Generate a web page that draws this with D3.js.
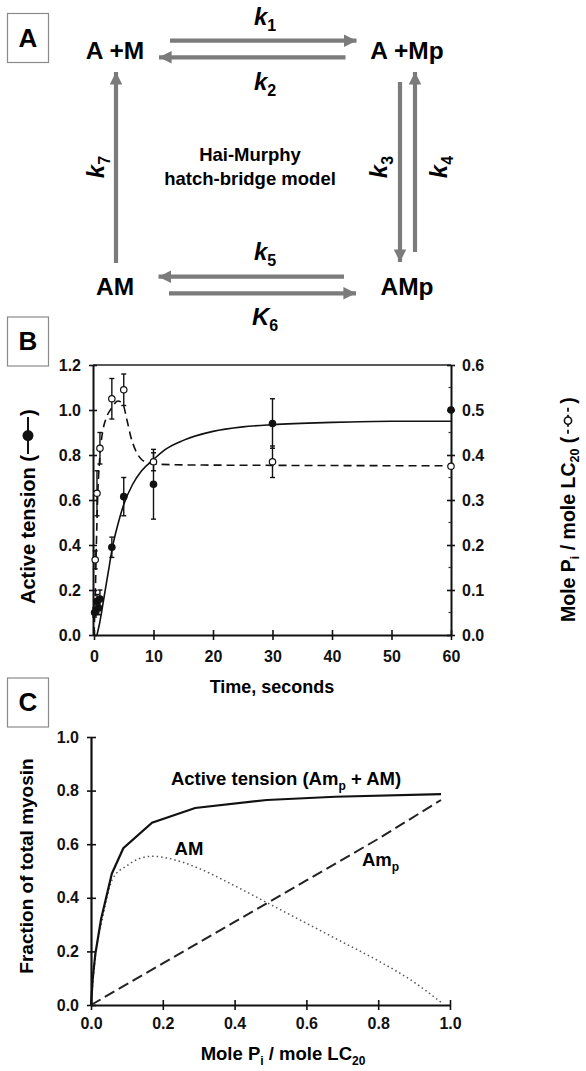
<!DOCTYPE html>
<html><head><meta charset="utf-8">
<script src="https://cdn.jsdelivr.net/npm/d3@7"></script>
<style>body{margin:0;background:#fff}svg{display:block;font-family:"Liberation Sans",Arial,sans-serif;font-weight:bold}</style>
</head><body>
<svg id="c" width="586" height="1071"></svg>
<script>
// ---------- Panel A (scheme) ----------
const states = ["A +M", "A +Mp", "AM", "AMp"];
const rateLabels = [["k","1"],["k","2"],["k","3"],["k","4"],["k","5"],["K","6"],["k","7"]];
const modelTitle = ["Hai-Murphy", "hatch-bridge model"];

// ---------- Panel B data ----------
const bTimeTicks = [0, 10, 20, 30, 40, 50, 60];
const bLeftTicks = [0, 0.2, 0.4, 0.6, 0.8, 1.0, 1.2];
const bRightTicks = [0, 0.1, 0.2, 0.3, 0.4, 0.5, 0.6];
// measured active tension (filled circles)
const tensionT   = [0.1, 0.5, 0.8, 1.0, 3, 5, 10, 30, 60];
const tensionV   = [0.10, 0.15, 0.12, 0.16, 0.39, 0.615, 0.67, 0.94, 1.00];
const tensionErr = [0.02, 0.03, 0.03, 0.04, 0.045, 0.085, 0.155, 0.11, 0];
// measured mole Pi / mole LC20 (open circles, right axis)
const piT   = [0.2, 0.5, 1, 3, 5, 10, 30, 60];
const piV   = [0.167, 0.315, 0.415, 0.525, 0.545, 0.385, 0.385, 0.375];
const piErr = [0.02, 0.05, 0.035, 0.045, 0.035, 0.02, 0.035, 0];
// model curves
const tensionCurveT = [0.5, 1.0, 1.7, 2.4, 3.1, 4, 5, 6.5, 8, 10, 12, 15, 20, 25, 30, 40, 50, 60];
const tensionCurveV = [0, 0.06, 0.17, 0.28, 0.39, 0.49, 0.58, 0.67, 0.73, 0.78, 0.825, 0.865, 0.905, 0.925, 0.935, 0.945, 0.95, 0.95];
const piCurveT = [0, 0.2, 0.4, 0.6, 1.0, 1.5, 2, 3, 4, 4.8, 5.5, 6.2, 7, 8, 9, 10, 15, 30, 60];
const piCurveV = [0, 0.08, 0.2, 0.3, 0.4, 0.455, 0.48, 0.505, 0.52, 0.515, 0.48, 0.44, 0.41, 0.39, 0.383, 0.38, 0.378, 0.377, 0.376];

// ---------- Panel C data ----------
const cTicks = [0, 0.2, 0.4, 0.6, 0.8, 1.0];
const totalX = [0, 0.005, 0.012, 0.028, 0.058, 0.09, 0.17, 0.29, 0.49, 0.68, 0.975];
const totalY = [0, 0.1, 0.19, 0.32, 0.49, 0.585, 0.68, 0.735, 0.765, 0.777, 0.787];
const amX = [0, 0.012, 0.03, 0.06, 0.1, 0.17, 0.25, 0.3, 0.4, 0.5, 0.6, 0.7, 0.8, 0.9, 0.975];
const amY = [0, 0.18, 0.31, 0.47, 0.52, 0.555, 0.535, 0.51, 0.445, 0.375, 0.305, 0.235, 0.165, 0.085, 0.01];
const ampX = [0, 0.2, 0.4, 0.6, 0.8, 0.975];
const ampY = [0, 0.155, 0.31, 0.465, 0.62, 0.765];

const svg = d3.select("#c");
const gray = "#7b7b7b";

// panel letter boxes
function letterBox(letter, x, y) {
  svg.append("rect").attr("x", x).attr("y", y).attr("width", 41).attr("height", 49)
    .attr("fill", "#fff").attr("stroke", "#8a8a8a").attr("stroke-width", 1.2);
  svg.append("text").attr("x", x + 20.5).attr("y", y + 33).attr("text-anchor", "middle")
    .attr("font-size", 26).text(letter);
}
letterBox("A", 7.5, 13.5);
letterBox("B", 7.5, 317);
letterBox("C", 7.5, 678);

// ---------- Panel A ----------
const statePos = [[115, 59], [407, 59], [115, 295], [407, 295]];
states.forEach((s, i) => {
  svg.append("text").attr("x", statePos[i][0]).attr("y", statePos[i][1])
    .attr("text-anchor", "middle").attr("font-size", 24.5).text(s);
});
const defs = svg.append("defs");
defs.append("marker").attr("id", "ah").attr("viewBox", "0 0 10 10").attr("refX", 10).attr("refY", 5)
  .attr("markerWidth", 3).attr("markerHeight", 3).attr("markerUnits", "strokeWidth").attr("orient", "auto")
  .append("path").attr("d", "M0,0 L10,5 L0,10 Z").attr("fill", gray);
const arrows = [
  [170, 40.7, 356.5, 40.7], [345.5, 57.3, 159, 57.3],
  [116, 263, 116, 72], [400, 82, 400, 262], [415, 252, 415, 72],
  [344, 276.7, 158.5, 276.7], [169, 293.3, 356, 293.3]
];
arrows.forEach(a => {
  svg.append("line").attr("x1", a[0]).attr("y1", a[1]).attr("x2", a[2]).attr("y2", a[3])
    .attr("stroke", gray).attr("stroke-width", 4.2).attr("marker-end", "url(#ah)");
});
function kLabel(lbl, x, y, rot) {
  const t = svg.append("text").attr("font-size", 24).attr("text-anchor", "middle")
    .attr("transform", `translate(${x},${y}) rotate(${rot})`);
  t.append("tspan").attr("font-style", "italic").text(lbl[0]);
  t.append("tspan").attr("font-size", 16).attr("dy", 6).text(lbl[1]);
}
kLabel(rateLabels[0], 265, 25, 0);
kLabel(rateLabels[1], 265, 90, 0);
kLabel(rateLabels[2], 387, 167, -90);
kLabel(rateLabels[3], 447, 167, -90);
kLabel(rateLabels[4], 265, 260, 0);
kLabel(rateLabels[5], 265, 325, 0);
kLabel(rateLabels[6], 104, 167, -90);
svg.append("text").attr("x", 250).attr("y", 161).attr("text-anchor", "middle").attr("font-size", 18.5).text(modelTitle[0]);
svg.append("text").attr("x", 250).attr("y", 185).attr("text-anchor", "middle").attr("font-size", 18.5).text(modelTitle[1]);

// ---------- Panel B ----------
const xB = d3.scaleLinear().domain([0, 60]).range([94, 451]);
const yBL = d3.scaleLinear().domain([0, 1.2]).range([635, 365]);
const yBR = d3.scaleLinear().domain([0, 0.6]).range([635, 365]);
const gB = svg.append("g");
// frame top line
gB.append("line").attr("x1", 93).attr("x2", 451).attr("y1", yBL(1.2)).attr("y2", yBL(1.2))
  .attr("stroke", "#222").attr("stroke-width", 1.6);
function styleAxis(g, sw) {
  g.selectAll(".domain").attr("stroke", "#111").attr("stroke-width", sw);
  g.selectAll(".tick line").attr("stroke", "#111").attr("stroke-width", 1.6);
  g.selectAll(".tick text").attr("font-size", 16).attr("font-family", "Liberation Sans, Arial, sans-serif").attr("font-weight", "bold").attr("fill", "#111");
}
const axBx = gB.append("g").attr("transform", "translate(0,635)")
  .call(d3.axisBottom(xB).tickValues(bTimeTicks).tickSizeInner(5).tickSizeOuter(0).tickPadding(11).tickFormat(d3.format("d")));
axBx.selectAll(".tick line").attr("y1", -5);
styleAxis(axBx, 2);
const axBl = gB.append("g").attr("transform", "translate(93,0)")
  .call(d3.axisLeft(yBL).tickValues(bLeftTicks).tickSizeInner(4).tickSizeOuter(0).tickPadding(8).tickFormat(d3.format(".1f")));
axBl.selectAll(".tick line").attr("x1", 4);
styleAxis(axBl, 2);
const axBr = gB.append("g").attr("transform", "translate(451,0)")
  .call(d3.axisRight(yBR).tickValues(bRightTicks).tickSizeInner(4).tickSizeOuter(0).tickPadding(7).tickFormat(d3.format(".1f")));
axBr.selectAll(".tick line").attr("x1", -4);
styleAxis(axBr, 2);
// minor ticks on right axis
gB.selectAll(".minr").data(d3.range(0.05, 0.6, 0.1)).enter().append("line")
  .attr("x1", 448.5).attr("x2", 451).attr("y1", d => yBR(d)).attr("y2", d => yBR(d))
  .attr("stroke", "#333").attr("stroke-width", 1.2);

// model curves
const lineTension = d3.line().x(d => xB(d[0])).y(d => yBL(d[1])).curve(d3.curveMonotoneX);
gB.append("path").datum(tensionCurveT.map((t, i) => [t, tensionCurveV[i]]))
  .attr("d", lineTension).attr("fill", "none").attr("stroke", "#111").attr("stroke-width", 1.6);
const linePi = d3.line().x(d => xB(d[0])).y(d => yBR(d[1])).curve(d3.curveMonotoneX);
gB.append("path").datum(piCurveT.map((t, i) => [t, piCurveV[i]]))
  .attr("d", linePi).attr("fill", "none").attr("stroke", "#111").attr("stroke-width", 1.6)
  .attr("stroke-dasharray", "8,5");

// error bars
function errBars(T, V, E, y) {
  T.forEach((t, i) => {
    if (E[i] <= 0) return;
    const x = xB(t);
    gB.append("line").attr("x1", x).attr("x2", x).attr("y1", y(V[i] - E[i])).attr("y2", y(V[i] + E[i]))
      .attr("stroke", "#111").attr("stroke-width", 1.4);
    [V[i] - E[i], V[i] + E[i]].forEach(v => gB.append("line").attr("x1", x - 2.5).attr("x2", x + 2.5)
      .attr("y1", y(v)).attr("y2", y(v)).attr("stroke", "#111").attr("stroke-width", 1.4));
  });
}
errBars(tensionT, tensionV, tensionErr, yBL);
errBars(piT, piV, piErr, yBR);
gB.selectAll(".tp").data(tensionT).enter().append("circle")
  .attr("cx", d => xB(d)).attr("cy", (d, i) => yBL(tensionV[i])).attr("r", 3.8).attr("fill", "#111");
gB.selectAll(".pp").data(piT).enter().append("circle")
  .attr("cx", d => xB(d)).attr("cy", (d, i) => yBR(piV[i])).attr("r", 3.2)
  .attr("fill", "#fff").attr("stroke", "#111").attr("stroke-width", 1.2);

svg.append("text").attr("x", 272).attr("y", 693).attr("text-anchor", "middle").attr("font-size", 18).text("Time, seconds");

// left title with symbol
const lt = svg.append("g").attr("transform", "translate(35,604) rotate(-90)");
const lt1 = lt.append("text").attr("x", 0).attr("y", 0).attr("font-size", 20).text("Active tension (");
const w1 = lt1.node().getComputedTextLength();
lt.append("line").attr("x1", w1 + 1).attr("x2", w1 + 38).attr("y1", -7).attr("y2", -7).attr("stroke", "#111").attr("stroke-width", 2);
lt.append("circle").attr("cx", w1 + 19.5).attr("cy", -7).attr("r", 5.5).attr("fill", "#111");
lt.append("text").attr("x", w1 + 39).attr("y", 0).attr("font-size", 20).text(")");

// right title with symbol
const rt = svg.append("g").attr("transform", "translate(575,622) rotate(-90)");
const rt1 = rt.append("text").attr("x", 0).attr("y", 0).attr("font-size", 19.5);
rt1.append("tspan").text("Mole P");
rt1.append("tspan").attr("font-size", 12.5).attr("dy", 4).text("i");
rt1.append("tspan").attr("dy", -4).text(" / mole LC");
rt1.append("tspan").attr("font-size", 12.5).attr("dy", 4).text("20");
rt1.append("tspan").attr("dy", -4).text(" (");
const w2 = rt1.node().getComputedTextLength();
rt.append("line").attr("x1", w2 + 3).attr("x2", w2 + 7).attr("y1", -7).attr("y2", -7).attr("stroke", "#111").attr("stroke-width", 1.8);
rt.append("line").attr("x1", w2 + 10).attr("x2", w2 + 22).attr("y1", -7).attr("y2", -7).attr("stroke", "#111").attr("stroke-width", 1.8);
rt.append("circle").attr("cx", w2 + 16).attr("cy", -7).attr("r", 3.6).attr("fill", "#fff").attr("stroke", "#111").attr("stroke-width", 1.6);
rt.append("line").attr("x1", w2 + 25).attr("x2", w2 + 29).attr("y1", -7).attr("y2", -7).attr("stroke", "#111").attr("stroke-width", 1.8);
rt.append("text").attr("x", w2 + 33).attr("y", 0).attr("font-size", 19.5).text(")");

// ---------- Panel C ----------
const xC = d3.scaleLinear().domain([0, 1]).range([91, 450]);
const yC = d3.scaleLinear().domain([0, 1]).range([1005, 737]);
const gC = svg.append("g");
const axCx = gC.append("g").attr("transform", "translate(0,1005)")
  .call(d3.axisBottom(xC).tickValues(cTicks).tickSizeInner(5).tickSizeOuter(0).tickPadding(8).tickFormat(d3.format(".1f")));
axCx.selectAll(".tick line").attr("y1", -5);
styleAxis(axCx, 2.2);
const axCy = gC.append("g").attr("transform", "translate(91,0)")
  .call(d3.axisLeft(yC).tickValues(cTicks).tickSizeInner(4).tickSizeOuter(0).tickPadding(8).tickFormat(d3.format(".1f")));
axCy.selectAll(".tick line").attr("x1", 5);
styleAxis(axCy, 2.2);

const lineC = d3.line().x(d => xC(d[0])).y(d => yC(d[1]));
gC.append("path").datum(ampX.map((x, i) => [x, ampY[i]])).attr("d", lineC)
  .attr("fill", "none").attr("stroke", "#222").attr("stroke-width", 2).attr("stroke-dasharray", "11,5");
gC.append("path").datum(amX.map((x, i) => [x, amY[i]])).attr("d", lineC.curve(d3.curveMonotoneX))
  .attr("fill", "none").attr("stroke", "#555").attr("stroke-width", 1.5).attr("stroke-dasharray", "1.5,3");
gC.append("path").datum(totalX.map((x, i) => [x, totalY[i]])).attr("d", d3.line().x(d => xC(d[0])).y(d => yC(d[1])))
  .attr("fill", "none").attr("stroke", "#111").attr("stroke-width", 2.2);

const t1 = svg.append("text").attr("x", 286).attr("y", 785).attr("text-anchor", "middle").attr("font-size", 18.5);
t1.append("tspan").text("Active tension (Am");
t1.append("tspan").attr("font-size", 12).attr("dy", 5).text("p");
t1.append("tspan").attr("dy", -5).text(" + AM)");
svg.append("text").attr("x", 189).attr("y", 855).attr("text-anchor", "middle").attr("font-size", 18.5).text("AM");
const t2 = svg.append("text").attr("x", 362).attr("y", 866).attr("font-size", 18.5);
t2.append("tspan").text("Am");
t2.append("tspan").attr("font-size", 12).attr("dy", 5).text("p");

svg.append("text").attr("x", 33).attr("y", 866).attr("text-anchor", "middle").attr("font-size", 19)
  .attr("transform", "rotate(-90,33,866)").text("Fraction of total myosin");
const t3 = svg.append("text").attr("x", 283).attr("y", 1060).attr("text-anchor", "middle").attr("font-size", 18.5);
t3.append("tspan").text("Mole P");
t3.append("tspan").attr("font-size", 12).attr("dy", 5).text("i");
t3.append("tspan").attr("dy", -5).text(" / mole LC");
t3.append("tspan").attr("font-size", 12).attr("dy", 5).text("20");
</script>
</body></html>
